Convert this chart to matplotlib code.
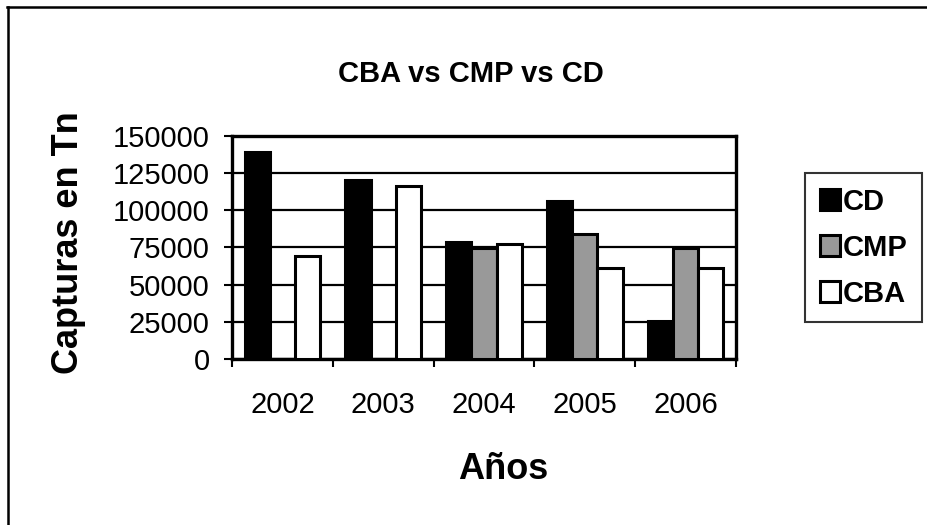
import matplotlib
matplotlib.use("Agg")
import numpy as np
import matplotlib.pyplot as plt
from matplotlib.lines import Line2D

# datos
years = ['2002', '2003', '2004', '2005', '2006']
cd = [139500, 120500, 79000, 106000, 25500]
cmp_ = [0, 0, 74700, 84000, 74700]
cba = [69500, 116500, 77500, 61500, 61500]
yTicks = [0, 25000, 50000, 75000, 100000, 125000, 150000]

plt.rcParams['font.family'] = ['Liberation Sans', 'DejaVu Sans']

W, H = 928, 525
fig = plt.figure(figsize=(W / 100, H / 100), dpi=100)

def fx(px):
    return px / W

def fy(py):
    return 1 - py / H

# marco exterior (solo borde superior e izquierdo visibles)
fig.add_artist(Line2D([fx(8), fx(8)], [fy(7), 0], color='black', lw=1.8,
                      transform=fig.transFigure))
fig.add_artist(Line2D([fx(7), 1], [fy(7), fy(7)], color='black', lw=1.8,
                      transform=fig.transFigure))

left, top, right, bottom = 232, 136, 736, 359
ax = fig.add_axes([fx(left), fy(bottom), (right - left) / W, (bottom - top) / H])

x = np.arange(len(years))
bw = 0.25
ax.bar(x - bw, cd, bw, color='black', edgecolor='black', lw=2.2, label='CD', zorder=3)
ax.bar(x, cmp_, bw, color='#999999', edgecolor='black', lw=2.2, label='CMP', zorder=3)
ax.bar(x + bw, cba, bw, color='white', edgecolor='black', lw=2.2, label='CBA', zorder=3)

ax.set_xlim(-0.5, len(years) - 0.5)
ax.set_ylim(0, 150000)
ax.set_yticks(yTicks)
ax.set_yticklabels([str(v) for v in yTicks])
ax.grid(axis='y', color='black', lw=1.6)
ax.set_axisbelow(True)

# ticks del eje x en los limites de categoria
ax.set_xticks(np.arange(-0.5, len(years) + 0.5, 1.0))
ax.set_xticklabels([])
ax.set_xticks(x, minor=True)
ax.set_xticklabels(years, minor=True)
ax.tick_params(axis='x', which='major', length=6, width=1.5, direction='out')
ax.tick_params(axis='x', which='minor', length=0, pad=23, labelsize=21)
ax.tick_params(axis='y', length=6, width=1.5, direction='out', pad=10, labelsize=21)

for s in ax.spines.values():
    s.set_linewidth(2.4)

leg = ax.legend(loc='upper left', bbox_to_anchor=(fx(805), fy(173)),
                bbox_transform=fig.transFigure, borderaxespad=0,
                frameon=True, fancybox=False, edgecolor='black',
                prop={'weight': 'bold', 'size': 21},
                handlelength=0.7, handleheight=0.7, handletextpad=0.1,
                labelspacing=0.62, borderpad=0.5)
leg.get_frame().set_linewidth(1.5)

fig.text(fx(471), fy(82), 'CBA vs CMP vs CD', ha='center', va='baseline',
         fontsize=21, fontweight='bold')
fig.text(fx(69), fy(243), 'Capturas en Tn', ha='center', va='center',
         rotation=90, fontsize=26, fontweight='bold')
fig.text(fx(503), fy(479), 'Años', ha='center', va='baseline',
         fontsize=26, fontweight='bold')

fig.savefig('out.png', dpi=100)
